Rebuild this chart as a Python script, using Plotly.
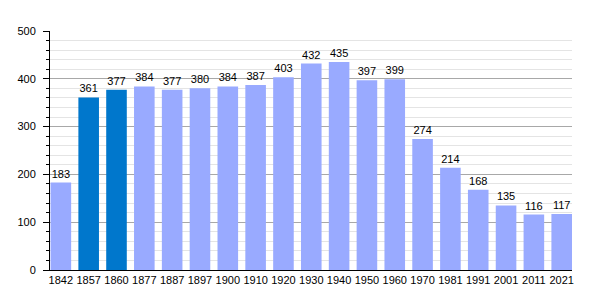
import plotly.graph_objects as go

years = ["1842", "1857", "1860", "1877", "1887", "1897", "1900", "1910", "1920", "1930",
         "1940", "1950", "1960", "1970", "1981", "1991", "2001", "2011", "2021"]
population = [183, 361, 377, 384, 377, 380, 384, 387, 403, 432,
              435, 397, 399, 274, 214, 168, 135, 116, 117]
highlight = ["1857", "1860"]

light = "#99aaff"
dark = "#0077cc"
colors = [dark if y in highlight else light for y in years]
bar_w = 0.74

fig = go.Figure(go.Bar(
    x=years, y=population,
    marker=dict(color=colors, line=dict(width=0)),
    text=[str(v) for v in population],
    textposition="outside",
    textfont=dict(family="Liberation Sans, Arial, sans-serif", size=11, color="#000"),
    cliponaxis=False,
    width=bar_w,
))

fig.update_layout(
    width=600, height=300,
    margin=dict(l=50, r=28, t=31, b=30),
    paper_bgcolor="white", plot_bgcolor="white",
    showlegend=False,
    font=dict(family="Liberation Sans, Arial, sans-serif", size=11, color="#000"),
)
fig.update_xaxes(
    type="category",
    range=[-bar_w / 2 - 0.02, len(years) - 1 + bar_w / 2],
    showline=True, linecolor="#000", linewidth=1,
    ticks="", showgrid=False,
    tickfont=dict(size=11),
)
fig.update_yaxes(
    range=[0, 500], dtick=100,
    showline=True, linecolor="#000", linewidth=1,
    ticks="outside", ticklen=6, tickcolor="#000",
    ticklabelstandoff=5,
    gridcolor="#a8a8a8", gridwidth=1,
    zeroline=False,
    minor=dict(dtick=20, showgrid=True, gridcolor="#e4e4e4", ticks="outside", ticklen=3, tickcolor="#000"),
    tickfont=dict(size=11),
)

fig.write_html("out.html")
